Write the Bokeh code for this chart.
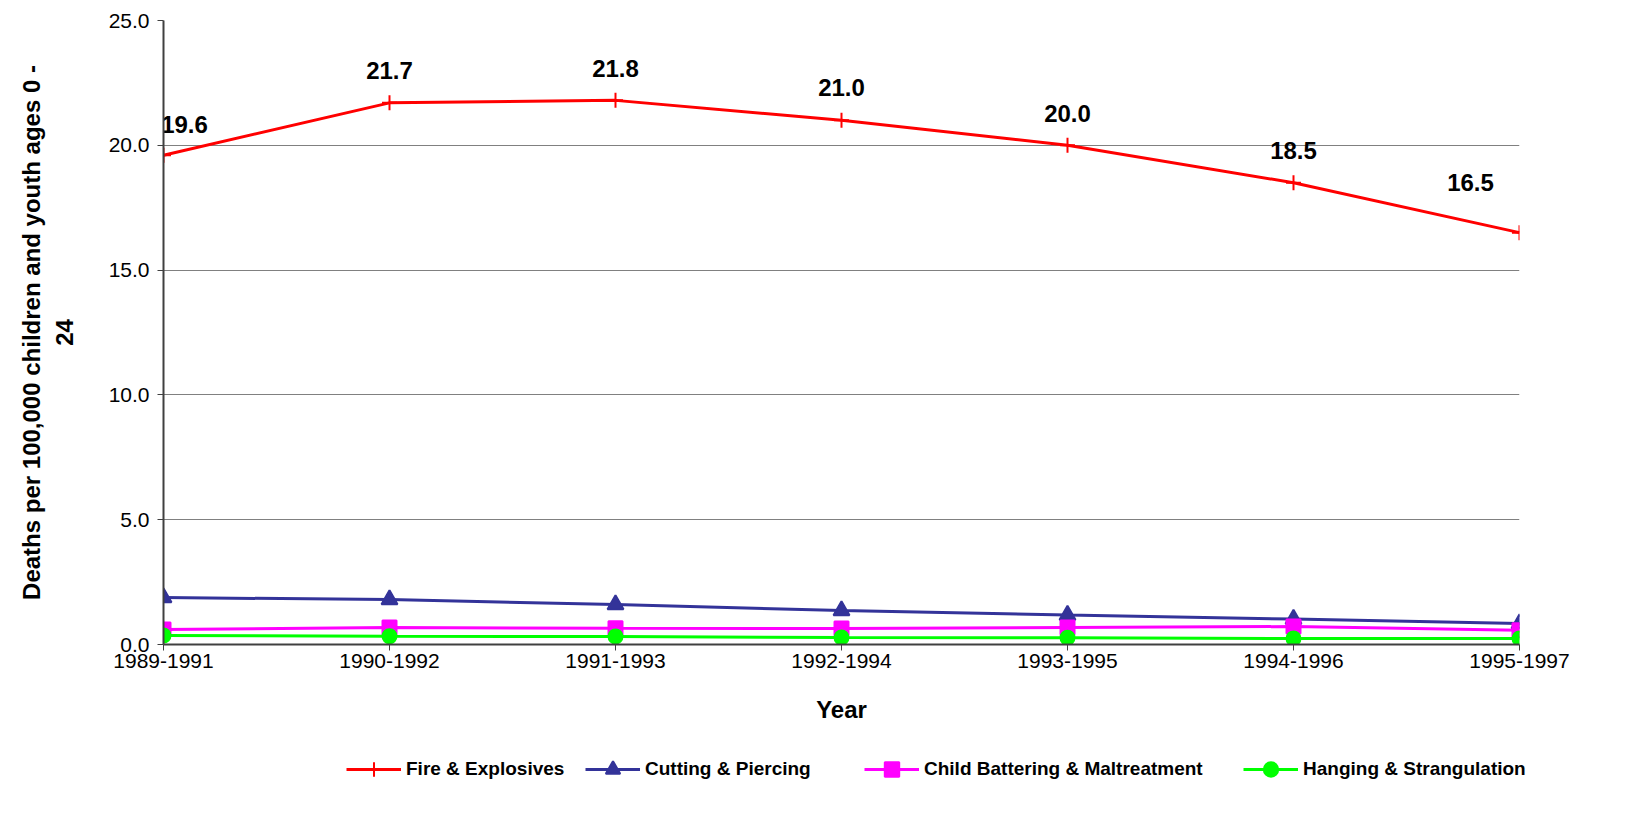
from bokeh.plotting import figure
from bokeh.models import (Range1d, FixedTicker, NumeralTickFormatter, Legend, LegendItem,
                          ColumnDataSource)
from bokeh.core.properties import value
from bokeh.embed import file_html
from bokeh.resources import INLINE

years = ["1989-1991", "1990-1992", "1991-1993", "1992-1994", "1993-1995", "1994-1996", "1995-1997"]
fire = [19.6, 21.7, 21.8, 21.0, 20.0, 18.5, 16.5]
cutting = [1.88, 1.80, 1.60, 1.36, 1.18, 1.02, 0.84]
battering = [0.60, 0.68, 0.65, 0.64, 0.68, 0.72, 0.57]
hanging = [0.36, 0.33, 0.32, 0.28, 0.27, 0.24, 0.24]
names = ["Fire & Explosives", "Cutting & Piercing", "Child Battering & Maltreatment",
         "Hanging & Strangulation"]
yticks = [0, 5, 10, 15, 20, 25]

xs = list(range(len(years)))
FONT = "Liberation Sans"
styles = [("#FF0000", "cross", 15), ("#333399", "triangle", 16),
          ("#FF00FF", "square", 14), ("#00FF00", "circle", 14)]

p = figure(width=1631, height=744, output_backend="svg", toolbar_location=None,
           x_range=Range1d(0, len(years) - 1), y_range=Range1d(0, 25),
           min_border_left=163, min_border_right=112, min_border_top=20, min_border_bottom=100)
p.outline_line_color = None
p.background_fill_color = "white"

p.xgrid.grid_line_color = None
p.ygrid.grid_line_color = "#808080"
p.ygrid.grid_line_width = 1
p.ygrid.ticker = FixedTicker(ticks=yticks)

p.yaxis.ticker = FixedTicker(ticks=yticks)
p.yaxis.formatter = NumeralTickFormatter(format="0.0")
p.xaxis.ticker = FixedTicker(ticks=xs)
p.xaxis.major_label_overrides = {i: y for i, y in enumerate(years)}
for ax in (p.xaxis[0], p.yaxis[0]):
    ax.axis_line_color = "#404040"
    ax.axis_line_width = 2
    ax.major_tick_line_color = "#404040"
    ax.major_tick_line_width = 1
    ax.major_tick_out = 6
    ax.major_tick_in = 0
    ax.minor_tick_line_color = None
    ax.major_label_text_font = FONT
    ax.major_label_text_font_size = "21px"
    ax.major_label_text_color = "black"
    ax.axis_label_text_font = FONT
    ax.axis_label_text_font_style = "bold"
    ax.axis_label_text_font_size = "24px"
    ax.axis_label_text_color = "black"

p.xaxis.axis_label = "Year"
p.xaxis.major_label_standoff = 3
p.xaxis.axis_label_standoff = 25
p.yaxis.axis_label = "Deaths per 100,000 children and youth ages 0 -\n24"
p.yaxis.major_label_standoff = 8
p.yaxis.axis_label_standoff = 28

for vals, (color, marker, size) in zip([fire, cutting, battering, hanging], styles):
    p.line(xs, vals, line_color=color, line_width=3)
    p.scatter(xs, vals, marker=marker, size=size, fill_color=color,
              line_color=color, line_width=2)

label_dx = [21, 0, 0, 0, 0, 0, -49]
label_dy = [-31, -32, -32, -33, -32, -32, -50]
src = ColumnDataSource(dict(x=xs, y=fire, t=["%.1f" % v for v in fire], dx=label_dx, dy=label_dy))
p.text(x="x", y="y", text="t", source=src, x_offset="dx", y_offset="dy",
       text_align="center", text_baseline="middle", text_font=value(FONT),
       text_font_style="bold", text_font_size="24px", text_color="black")

# legend strip below the chart (separate root, full-width frame)
lf = figure(width=1631, height=70, output_backend="svg", toolbar_location=None,
            x_range=Range1d(0, 1), y_range=Range1d(0, 1),
            min_border_left=0, min_border_right=0, min_border_top=0, min_border_bottom=0)
lf.axis.visible = False
lf.grid.visible = False
lf.outline_line_color = None
legend_x = [346, 585, 864, 1243]
for name, (color, marker, size), lx in zip(names, styles, legend_x):
    # sample point lies outside the visible range; only the legend glyph shows
    ln = lf.line([-5, -4], [-5, -5], line_color=color, line_width=3)
    mk = lf.scatter([-5], [-5], marker=marker, size=size, fill_color=color,
                    line_color=color, line_width=2)
    leg = Legend(items=[LegendItem(label=name, renderers=[ln, mk])],
                 orientation="horizontal", location=(lx, 27))
    leg.border_line_color = None
    leg.background_fill_alpha = 0
    leg.padding = 0
    leg.margin = 0
    leg.spacing = 0
    leg.glyph_width = 55
    leg.glyph_height = 36
    leg.label_height = 36
    leg.label_standoff = 5
    leg.label_text_font = FONT
    leg.label_text_font_style = "bold"
    leg.label_text_font_size = "19px"
    leg.label_text_color = "black"
    lf.add_layout(leg, "center")

open("out.html", "w").write(file_html([p, lf], INLINE))
